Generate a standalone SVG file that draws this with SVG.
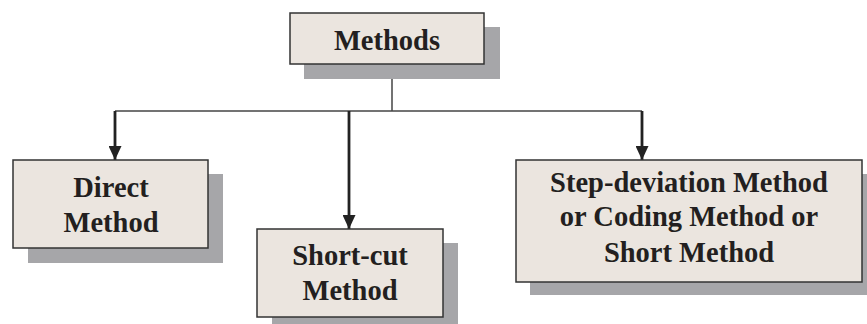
<svg xmlns="http://www.w3.org/2000/svg" width="867" height="324" viewBox="0 0 867 324">
<style>
.box{fill:#ebe5df;stroke:#333;stroke-width:1.5}
.sh{fill:#a6a6a9}
.t{font-family:"Liberation Serif","Times New Roman",serif;font-weight:bold;font-size:28.5px;fill:#231f20;text-anchor:middle}
.c{stroke:#444;stroke-width:1.5;fill:none}
.a{stroke:#222;stroke-width:2.8;fill:none}
</style>
<defs>
<marker id="ah" viewBox="0 0 14 13" refX="14" refY="6.5" markerWidth="14" markerHeight="13" markerUnits="userSpaceOnUse" orient="auto">
<path d="M0,0 L14,6.5 L0,13 z" fill="#222"/>
</marker>
</defs>
<rect width="867" height="324" fill="#fff"/>
<g id="connectors">
<line class="c" x1="392" y1="64" x2="392" y2="111"/>
<line class="c" x1="115" y1="111" x2="642" y2="111"/>
<line class="a" x1="115" y1="111" x2="115" y2="160" marker-end="url(#ah)"/>
<line class="a" x1="349" y1="111" x2="349" y2="229" marker-end="url(#ah)"/>
<line class="a" x1="642" y1="111" x2="642" y2="160" marker-end="url(#ah)"/>
</g>
<g id="methods">
<rect class="sh" x="304" y="27" width="196" height="52"/>
<rect class="box" x="290" y="13" width="194" height="51"/>
<text class="t" x="387" y="50">Methods</text>
</g>
<g id="direct">
<rect class="sh" x="28" y="174" width="195" height="89"/>
<rect class="box" x="13" y="160" width="195" height="88"/>
<text class="t" x="111" y="197">Direct</text>
<text class="t" x="111" y="232">Method</text>
</g>
<g id="shortcut">
<rect class="sh" x="272" y="243" width="186" height="90"/>
<rect class="box" x="257" y="229" width="186" height="88"/>
<text class="t" x="350" y="265">Short-cut</text>
<text class="t" x="350" y="300">Method</text>
</g>
<g id="stepdeviation">
<rect class="sh" x="530" y="174" width="346" height="121"/>
<rect class="box" x="516" y="160" width="346" height="122"/>
<text class="t" x="689" y="192">Step-deviation Method</text>
<text class="t" x="689" y="226">or Coding Method or</text>
<text class="t" x="689" y="262">Short Method</text>
</g>
</svg>
